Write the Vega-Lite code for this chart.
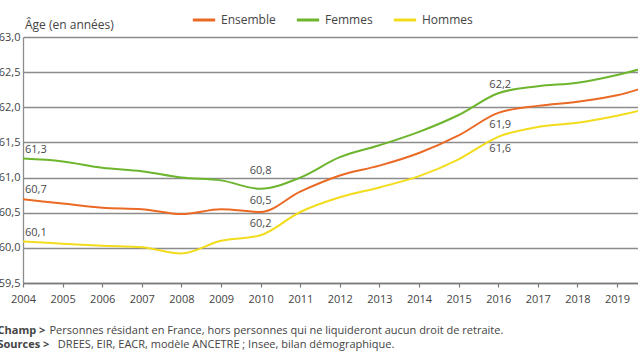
{
  "$schema": "https://vega.github.io/schema/vega-lite/v6.json",
  "width": 615,
  "height": 246,
  "autosize": {"type": "none"},
  "padding": {"left": 23, "top": 37, "right": 0, "bottom": 76},
  "config": {
    "locale": {"number": {"decimal": ",", "thousands": "\u00a0", "grouping": [3], "currency": ["", " €"]}},
    "font": "Open Sans",
    "view": {"stroke": null},
    "text": {"font": "Open Sans", "fontSize": 11, "color": "#4a4a4a"}
  },
  "title": {"text": "Âge (en années)", "anchor": "start", "frame": "group", "fontSize": 12, "fontWeight": "normal", "color": "#444444", "offset": 8, "dx": 2, "dy": 33},
  "data": {"values": [
    {"year": 2004, "series": "Ensemble", "value": 60.69},
    {"year": 2005, "series": "Ensemble", "value": 60.63},
    {"year": 2006, "series": "Ensemble", "value": 60.57},
    {"year": 2007, "series": "Ensemble", "value": 60.55},
    {"year": 2008, "series": "Ensemble", "value": 60.48},
    {"year": 2009, "series": "Ensemble", "value": 60.55},
    {"year": 2010, "series": "Ensemble", "value": 60.51},
    {"year": 2011, "series": "Ensemble", "value": 60.8},
    {"year": 2012, "series": "Ensemble", "value": 61.03},
    {"year": 2013, "series": "Ensemble", "value": 61.17},
    {"year": 2014, "series": "Ensemble", "value": 61.35},
    {"year": 2015, "series": "Ensemble", "value": 61.6},
    {"year": 2016, "series": "Ensemble", "value": 61.92},
    {"year": 2017, "series": "Ensemble", "value": 62.02},
    {"year": 2018, "series": "Ensemble", "value": 62.08},
    {"year": 2019, "series": "Ensemble", "value": 62.17},
    {"year": 2020, "series": "Ensemble", "value": 62.34},
    {"year": 2004, "series": "Femmes", "value": 61.27},
    {"year": 2005, "series": "Femmes", "value": 61.23},
    {"year": 2006, "series": "Femmes", "value": 61.14},
    {"year": 2007, "series": "Femmes", "value": 61.09},
    {"year": 2008, "series": "Femmes", "value": 61.0},
    {"year": 2009, "series": "Femmes", "value": 60.96},
    {"year": 2010, "series": "Femmes", "value": 60.84},
    {"year": 2011, "series": "Femmes", "value": 61.0},
    {"year": 2012, "series": "Femmes", "value": 61.29},
    {"year": 2013, "series": "Femmes", "value": 61.46},
    {"year": 2014, "series": "Femmes", "value": 61.65},
    {"year": 2015, "series": "Femmes", "value": 61.89},
    {"year": 2016, "series": "Femmes", "value": 62.2},
    {"year": 2017, "series": "Femmes", "value": 62.3},
    {"year": 2018, "series": "Femmes", "value": 62.35},
    {"year": 2019, "series": "Femmes", "value": 62.46},
    {"year": 2020, "series": "Femmes", "value": 62.61},
    {"year": 2004, "series": "Hommes", "value": 60.09},
    {"year": 2005, "series": "Hommes", "value": 60.06},
    {"year": 2006, "series": "Hommes", "value": 60.03},
    {"year": 2007, "series": "Hommes", "value": 60.01},
    {"year": 2008, "series": "Hommes", "value": 59.92},
    {"year": 2009, "series": "Hommes", "value": 60.1},
    {"year": 2010, "series": "Hommes", "value": 60.18},
    {"year": 2011, "series": "Hommes", "value": 60.51},
    {"year": 2012, "series": "Hommes", "value": 60.72},
    {"year": 2013, "series": "Hommes", "value": 60.86},
    {"year": 2014, "series": "Hommes", "value": 61.02},
    {"year": 2015, "series": "Hommes", "value": 61.26},
    {"year": 2016, "series": "Hommes", "value": 61.58},
    {"year": 2017, "series": "Hommes", "value": 61.72},
    {"year": 2018, "series": "Hommes", "value": 61.78},
    {"year": 2019, "series": "Hommes", "value": 61.88},
    {"year": 2020, "series": "Hommes", "value": 62.01}
  ]},
  "encoding": {
    "x": {
      "field": "year", "type": "quantitative",
      "scale": {"domain": [2004, 2019.53], "nice": false, "zero": false},
      "axis": {
        "values": [2004, 2005, 2006, 2007, 2008, 2009, 2010, 2011, 2012, 2013, 2014, 2015, 2016, 2017, 2018, 2019],
        "format": "d", "grid": false, "labelFlush": false, "labelOverlap": false,
        "domainColor": "#7a7a7a", "domainWidth": 1.5,
        "tickColor": "#7a7a7a", "tickSize": 4, "tickWidth": 1.2,
        "labelFontSize": 11, "labelColor": "#444444", "labelPadding": 6, "labelFont": "Open Sans",
        "title": ["Personnes résidant en France, hors personnes qui ne liquideront aucun droit de retraite.", "\u200b\u2002\u00a0DREES, EIR, EACR, modèle ANCETRE ; Insee, bilan démographique."],
        "titleX": 26, "titleY": 50, "titleAlign": "left", "titleBaseline": "alphabetic",
        "titleFontWeight": "normal", "titleFontSize": 11, "titleColor": "#444444", "titleLineHeight": 14, "titleFont": "Open Sans"
      }
    },
    "y": {
      "field": "value", "type": "quantitative",
      "scale": {"domain": [59.5, 63], "nice": false, "zero": false},
      "axis": {
        "values": [59.5, 60, 60.5, 61, 61.5, 62, 62.5, 63],
        "format": ".1f", "grid": true, "gridColor": "#8c8c8c", "gridWidth": 1.3,
        "domain": true, "domainColor": "#8c8c8c", "domainWidth": 1.3, "ticks": false,
        "labelPadding": 3, "labelFontSize": 11, "labelColor": "#444444", "labelFont": "Open Sans",
        "title": ["Champ >", "Sources >"], "titleAngle": 0, "titleAlign": "left", "titleBaseline": "alphabetic",
        "titleX": -26, "titleY": 296, "titleFontWeight": "bold", "titleFontSize": 11, "titleColor": "#444444", "titleLineHeight": 14, "titleFont": "Open Sans"
      }
    }
  },
  "layer": [
    {
      "mark": {"type": "line", "interpolate": "monotone", "strokeWidth": 2, "clip": true},
      "encoding": {
        "color": {
          "field": "series", "type": "nominal",
          "scale": {"domain": ["Ensemble", "Femmes", "Hommes"], "range": ["#EA6A25", "#6CB52D", "#F2DC1C"]},
          "legend": {
            "orient": "none", "legendX": 168, "legendY": -30, "direction": "horizontal", "title": null,
            "symbolType": "stroke", "symbolSize": 500, "symbolStrokeWidth": 3,
            "labelFontSize": 12, "labelColor": "#444444", "labelOffset": 4, "columnPadding": 14, "labelFont": "Open Sans"
          }
        }
      }
    },
    {
      "transform": [{"filter": "datum.year == 2004"}],
      "mark": {"type": "text", "align": "left", "dx": 2, "dy": -9},
      "encoding": {"text": {"field": "value", "type": "quantitative", "format": ".1f"}}
    },
    {
      "transform": [{"filter": "datum.year == 2010 && datum.series != 'Femmes'"}],
      "mark": {"type": "text", "align": "center", "dy": -11},
      "encoding": {"text": {"field": "value", "type": "quantitative", "format": ".1f"}}
    },
    {
      "transform": [{"filter": "datum.year == 2010 && datum.series == 'Femmes'"}],
      "mark": {"type": "text", "align": "center", "dy": -18},
      "encoding": {"text": {"field": "value", "type": "quantitative", "format": ".1f"}}
    },
    {
      "transform": [{"filter": "datum.year == 2016 && datum.series == 'Femmes'"}],
      "mark": {"type": "text", "align": "center", "dx": 2, "dy": -8},
      "encoding": {"text": {"field": "value", "type": "quantitative", "format": ".1f"}}
    },
    {
      "transform": [{"filter": "datum.year == 2016 && datum.series != 'Femmes'"}],
      "mark": {"type": "text", "align": "center", "dx": 2, "dy": 12},
      "encoding": {"text": {"field": "value", "type": "quantitative", "format": ".1f"}}
    }
  ]
}
